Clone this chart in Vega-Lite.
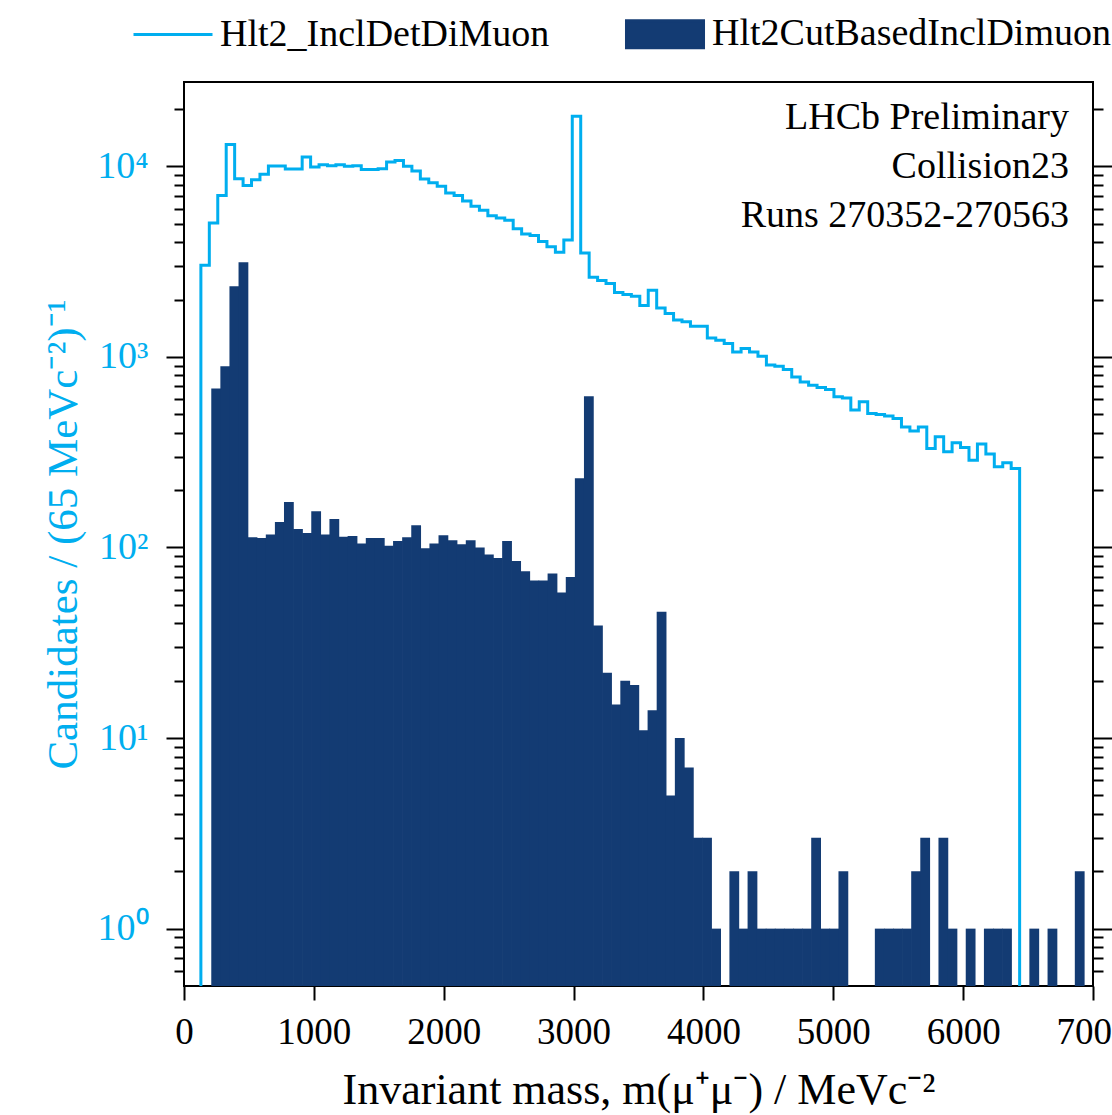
{
  "$schema": "https://vega.github.io/schema/vega-lite/v6.json",
  "autosize": {"type": "none"},
  "padding": {"left": 184, "top": 82, "right": 19, "bottom": 129},
  "width": 909,
  "height": 904,
  "background": "white",
  "config": {
    "font": "Liberation Serif",
    "view": {"stroke": "#000000", "strokeWidth": 2}
  },
  "datasets": {
    "bars": [
      {"lo": 210, "hi": 280, "n": 683, "s": "Hlt2CutBasedInclDimuon"},
      {"lo": 280, "hi": 350, "n": 894, "s": "Hlt2CutBasedInclDimuon"},
      {"lo": 350, "hi": 420, "n": 2350, "s": "Hlt2CutBasedInclDimuon"},
      {"lo": 420, "hi": 490, "n": 3140, "s": "Hlt2CutBasedInclDimuon"},
      {"lo": 490, "hi": 560, "n": 113, "s": "Hlt2CutBasedInclDimuon"},
      {"lo": 560, "hi": 630, "n": 112, "s": "Hlt2CutBasedInclDimuon"},
      {"lo": 630, "hi": 700, "n": 117, "s": "Hlt2CutBasedInclDimuon"},
      {"lo": 700, "hi": 770, "n": 136, "s": "Hlt2CutBasedInclDimuon"},
      {"lo": 770, "hi": 840, "n": 173, "s": "Hlt2CutBasedInclDimuon"},
      {"lo": 840, "hi": 910, "n": 125, "s": "Hlt2CutBasedInclDimuon"},
      {"lo": 910, "hi": 980, "n": 119, "s": "Hlt2CutBasedInclDimuon"},
      {"lo": 980, "hi": 1050, "n": 155, "s": "Hlt2CutBasedInclDimuon"},
      {"lo": 1050, "hi": 1120, "n": 117, "s": "Hlt2CutBasedInclDimuon"},
      {"lo": 1120, "hi": 1190, "n": 141, "s": "Hlt2CutBasedInclDimuon"},
      {"lo": 1190, "hi": 1260, "n": 114, "s": "Hlt2CutBasedInclDimuon"},
      {"lo": 1260, "hi": 1330, "n": 115, "s": "Hlt2CutBasedInclDimuon"},
      {"lo": 1330, "hi": 1400, "n": 105, "s": "Hlt2CutBasedInclDimuon"},
      {"lo": 1400, "hi": 1470, "n": 112, "s": "Hlt2CutBasedInclDimuon"},
      {"lo": 1470, "hi": 1540, "n": 112, "s": "Hlt2CutBasedInclDimuon"},
      {"lo": 1540, "hi": 1610, "n": 102, "s": "Hlt2CutBasedInclDimuon"},
      {"lo": 1610, "hi": 1680, "n": 108, "s": "Hlt2CutBasedInclDimuon"},
      {"lo": 1680, "hi": 1750, "n": 113, "s": "Hlt2CutBasedInclDimuon"},
      {"lo": 1750, "hi": 1820, "n": 131, "s": "Hlt2CutBasedInclDimuon"},
      {"lo": 1820, "hi": 1890, "n": 99, "s": "Hlt2CutBasedInclDimuon"},
      {"lo": 1890, "hi": 1960, "n": 105, "s": "Hlt2CutBasedInclDimuon"},
      {"lo": 1960, "hi": 2030, "n": 116, "s": "Hlt2CutBasedInclDimuon"},
      {"lo": 2030, "hi": 2100, "n": 109, "s": "Hlt2CutBasedInclDimuon"},
      {"lo": 2100, "hi": 2170, "n": 104, "s": "Hlt2CutBasedInclDimuon"},
      {"lo": 2170, "hi": 2240, "n": 109, "s": "Hlt2CutBasedInclDimuon"},
      {"lo": 2240, "hi": 2310, "n": 100, "s": "Hlt2CutBasedInclDimuon"},
      {"lo": 2310, "hi": 2380, "n": 92, "s": "Hlt2CutBasedInclDimuon"},
      {"lo": 2380, "hi": 2450, "n": 88, "s": "Hlt2CutBasedInclDimuon"},
      {"lo": 2450, "hi": 2520, "n": 108, "s": "Hlt2CutBasedInclDimuon"},
      {"lo": 2520, "hi": 2590, "n": 85, "s": "Hlt2CutBasedInclDimuon"},
      {"lo": 2590, "hi": 2660, "n": 75, "s": "Hlt2CutBasedInclDimuon"},
      {"lo": 2660, "hi": 2730, "n": 67, "s": "Hlt2CutBasedInclDimuon"},
      {"lo": 2730, "hi": 2800, "n": 67, "s": "Hlt2CutBasedInclDimuon"},
      {"lo": 2800, "hi": 2870, "n": 73, "s": "Hlt2CutBasedInclDimuon"},
      {"lo": 2870, "hi": 2940, "n": 58, "s": "Hlt2CutBasedInclDimuon"},
      {"lo": 2940, "hi": 3010, "n": 70, "s": "Hlt2CutBasedInclDimuon"},
      {"lo": 3010, "hi": 3080, "n": 231, "s": "Hlt2CutBasedInclDimuon"},
      {"lo": 3080, "hi": 3150, "n": 622, "s": "Hlt2CutBasedInclDimuon"},
      {"lo": 3150, "hi": 3220, "n": 39, "s": "Hlt2CutBasedInclDimuon"},
      {"lo": 3220, "hi": 3290, "n": 22, "s": "Hlt2CutBasedInclDimuon"},
      {"lo": 3290, "hi": 3360, "n": 15, "s": "Hlt2CutBasedInclDimuon"},
      {"lo": 3360, "hi": 3430, "n": 20, "s": "Hlt2CutBasedInclDimuon"},
      {"lo": 3430, "hi": 3500, "n": 19, "s": "Hlt2CutBasedInclDimuon"},
      {"lo": 3500, "hi": 3570, "n": 11, "s": "Hlt2CutBasedInclDimuon"},
      {"lo": 3570, "hi": 3640, "n": 14, "s": "Hlt2CutBasedInclDimuon"},
      {"lo": 3640, "hi": 3710, "n": 46, "s": "Hlt2CutBasedInclDimuon"},
      {"lo": 3710, "hi": 3780, "n": 5, "s": "Hlt2CutBasedInclDimuon"},
      {"lo": 3780, "hi": 3850, "n": 10, "s": "Hlt2CutBasedInclDimuon"},
      {"lo": 3850, "hi": 3920, "n": 7, "s": "Hlt2CutBasedInclDimuon"},
      {"lo": 3920, "hi": 3990, "n": 3, "s": "Hlt2CutBasedInclDimuon"},
      {"lo": 3990, "hi": 4060, "n": 3, "s": "Hlt2CutBasedInclDimuon"},
      {"lo": 4060, "hi": 4130, "n": 1, "s": "Hlt2CutBasedInclDimuon"},
      {"lo": 4200, "hi": 4270, "n": 2, "s": "Hlt2CutBasedInclDimuon"},
      {"lo": 4270, "hi": 4340, "n": 1, "s": "Hlt2CutBasedInclDimuon"},
      {"lo": 4340, "hi": 4410, "n": 2, "s": "Hlt2CutBasedInclDimuon"},
      {"lo": 4410, "hi": 4480, "n": 1, "s": "Hlt2CutBasedInclDimuon"},
      {"lo": 4480, "hi": 4550, "n": 1, "s": "Hlt2CutBasedInclDimuon"},
      {"lo": 4550, "hi": 4620, "n": 1, "s": "Hlt2CutBasedInclDimuon"},
      {"lo": 4620, "hi": 4690, "n": 1, "s": "Hlt2CutBasedInclDimuon"},
      {"lo": 4690, "hi": 4760, "n": 1, "s": "Hlt2CutBasedInclDimuon"},
      {"lo": 4760, "hi": 4830, "n": 1, "s": "Hlt2CutBasedInclDimuon"},
      {"lo": 4830, "hi": 4900, "n": 3, "s": "Hlt2CutBasedInclDimuon"},
      {"lo": 4900, "hi": 4970, "n": 1, "s": "Hlt2CutBasedInclDimuon"},
      {"lo": 4970, "hi": 5040, "n": 1, "s": "Hlt2CutBasedInclDimuon"},
      {"lo": 5040, "hi": 5110, "n": 2, "s": "Hlt2CutBasedInclDimuon"},
      {"lo": 5320, "hi": 5390, "n": 1, "s": "Hlt2CutBasedInclDimuon"},
      {"lo": 5390, "hi": 5460, "n": 1, "s": "Hlt2CutBasedInclDimuon"},
      {"lo": 5460, "hi": 5530, "n": 1, "s": "Hlt2CutBasedInclDimuon"},
      {"lo": 5530, "hi": 5600, "n": 1, "s": "Hlt2CutBasedInclDimuon"},
      {"lo": 5600, "hi": 5670, "n": 2, "s": "Hlt2CutBasedInclDimuon"},
      {"lo": 5670, "hi": 5740, "n": 3, "s": "Hlt2CutBasedInclDimuon"},
      {"lo": 5810, "hi": 5880, "n": 3, "s": "Hlt2CutBasedInclDimuon"},
      {"lo": 5880, "hi": 5950, "n": 1, "s": "Hlt2CutBasedInclDimuon"},
      {"lo": 6020, "hi": 6090, "n": 1, "s": "Hlt2CutBasedInclDimuon"},
      {"lo": 6160, "hi": 6230, "n": 1, "s": "Hlt2CutBasedInclDimuon"},
      {"lo": 6230, "hi": 6300, "n": 1, "s": "Hlt2CutBasedInclDimuon"},
      {"lo": 6300, "hi": 6370, "n": 1, "s": "Hlt2CutBasedInclDimuon"},
      {"lo": 6510, "hi": 6580, "n": 1, "s": "Hlt2CutBasedInclDimuon"},
      {"lo": 6650, "hi": 6720, "n": 1, "s": "Hlt2CutBasedInclDimuon"},
      {"lo": 6860, "hi": 6930, "n": 2, "s": "Hlt2CutBasedInclDimuon"}
    ],
    "line": [
      {"m": 130, "n": 0.5, "s": "Hlt2_InclDetDiMuon"},
      {"m": 130, "n": 3030, "s": "Hlt2_InclDetDiMuon"},
      {"m": 195, "n": 5040, "s": "Hlt2_InclDetDiMuon"},
      {"m": 260, "n": 7020, "s": "Hlt2_InclDetDiMuon"},
      {"m": 325, "n": 13030, "s": "Hlt2_InclDetDiMuon"},
      {"m": 390, "n": 8610, "s": "Hlt2_InclDetDiMuon"},
      {"m": 455, "n": 7940, "s": "Hlt2_InclDetDiMuon"},
      {"m": 520, "n": 8510, "s": "Hlt2_InclDetDiMuon"},
      {"m": 585, "n": 9080, "s": "Hlt2_InclDetDiMuon"},
      {"m": 650, "n": 10040, "s": "Hlt2_InclDetDiMuon"},
      {"m": 715, "n": 10040, "s": "Hlt2_InclDetDiMuon"},
      {"m": 780, "n": 9680, "s": "Hlt2_InclDetDiMuon"},
      {"m": 845, "n": 9680, "s": "Hlt2_InclDetDiMuon"},
      {"m": 910, "n": 11190, "s": "Hlt2_InclDetDiMuon"},
      {"m": 975, "n": 9910, "s": "Hlt2_InclDetDiMuon"},
      {"m": 1040, "n": 10200, "s": "Hlt2_InclDetDiMuon"},
      {"m": 1105, "n": 10080, "s": "Hlt2_InclDetDiMuon"},
      {"m": 1170, "n": 10200, "s": "Hlt2_InclDetDiMuon"},
      {"m": 1235, "n": 10000, "s": "Hlt2_InclDetDiMuon"},
      {"m": 1300, "n": 10080, "s": "Hlt2_InclDetDiMuon"},
      {"m": 1365, "n": 9610, "s": "Hlt2_InclDetDiMuon"},
      {"m": 1430, "n": 9610, "s": "Hlt2_InclDetDiMuon"},
      {"m": 1495, "n": 9720, "s": "Hlt2_InclDetDiMuon"},
      {"m": 1560, "n": 10540, "s": "Hlt2_InclDetDiMuon"},
      {"m": 1625, "n": 10740, "s": "Hlt2_InclDetDiMuon"},
      {"m": 1690, "n": 10000, "s": "Hlt2_InclDetDiMuon"},
      {"m": 1755, "n": 9440, "s": "Hlt2_InclDetDiMuon"},
      {"m": 1820, "n": 8570, "s": "Hlt2_InclDetDiMuon"},
      {"m": 1885, "n": 8200, "s": "Hlt2_InclDetDiMuon"},
      {"m": 1950, "n": 7850, "s": "Hlt2_InclDetDiMuon"},
      {"m": 2015, "n": 7250, "s": "Hlt2_InclDetDiMuon"},
      {"m": 2080, "n": 7020, "s": "Hlt2_InclDetDiMuon"},
      {"m": 2145, "n": 6580, "s": "Hlt2_InclDetDiMuon"},
      {"m": 2210, "n": 6170, "s": "Hlt2_InclDetDiMuon"},
      {"m": 2275, "n": 5880, "s": "Hlt2_InclDetDiMuon"},
      {"m": 2340, "n": 5510, "s": "Hlt2_InclDetDiMuon"},
      {"m": 2405, "n": 5350, "s": "Hlt2_InclDetDiMuon"},
      {"m": 2470, "n": 5210, "s": "Hlt2_InclDetDiMuon"},
      {"m": 2535, "n": 4710, "s": "Hlt2_InclDetDiMuon"},
      {"m": 2600, "n": 4410, "s": "Hlt2_InclDetDiMuon"},
      {"m": 2665, "n": 4330, "s": "Hlt2_InclDetDiMuon"},
      {"m": 2730, "n": 4030, "s": "Hlt2_InclDetDiMuon"},
      {"m": 2795, "n": 3780, "s": "Hlt2_InclDetDiMuon"},
      {"m": 2860, "n": 3540, "s": "Hlt2_InclDetDiMuon"},
      {"m": 2925, "n": 4110, "s": "Hlt2_InclDetDiMuon"},
      {"m": 2990, "n": 18290, "s": "Hlt2_InclDetDiMuon"},
      {"m": 3055, "n": 3510, "s": "Hlt2_InclDetDiMuon"},
      {"m": 3120, "n": 2620, "s": "Hlt2_InclDetDiMuon"},
      {"m": 3185, "n": 2520, "s": "Hlt2_InclDetDiMuon"},
      {"m": 3250, "n": 2425, "s": "Hlt2_InclDetDiMuon"},
      {"m": 3315, "n": 2180, "s": "Hlt2_InclDetDiMuon"},
      {"m": 3380, "n": 2125, "s": "Hlt2_InclDetDiMuon"},
      {"m": 3445, "n": 2080, "s": "Hlt2_InclDetDiMuon"},
      {"m": 3510, "n": 1860, "s": "Hlt2_InclDetDiMuon"},
      {"m": 3575, "n": 2240, "s": "Hlt2_InclDetDiMuon"},
      {"m": 3640, "n": 1808, "s": "Hlt2_InclDetDiMuon"},
      {"m": 3705, "n": 1690, "s": "Hlt2_InclDetDiMuon"},
      {"m": 3770, "n": 1560, "s": "Hlt2_InclDetDiMuon"},
      {"m": 3835, "n": 1530, "s": "Hlt2_InclDetDiMuon"},
      {"m": 3900, "n": 1450, "s": "Hlt2_InclDetDiMuon"},
      {"m": 3965, "n": 1450, "s": "Hlt2_InclDetDiMuon"},
      {"m": 4030, "n": 1258, "s": "Hlt2_InclDetDiMuon"},
      {"m": 4095, "n": 1224, "s": "Hlt2_InclDetDiMuon"},
      {"m": 4160, "n": 1176, "s": "Hlt2_InclDetDiMuon"},
      {"m": 4225, "n": 1062, "s": "Hlt2_InclDetDiMuon"},
      {"m": 4290, "n": 1107, "s": "Hlt2_InclDetDiMuon"},
      {"m": 4355, "n": 1062, "s": "Hlt2_InclDetDiMuon"},
      {"m": 4420, "n": 1008, "s": "Hlt2_InclDetDiMuon"},
      {"m": 4485, "n": 906, "s": "Hlt2_InclDetDiMuon"},
      {"m": 4550, "n": 894, "s": "Hlt2_InclDetDiMuon"},
      {"m": 4615, "n": 859, "s": "Hlt2_InclDetDiMuon"},
      {"m": 4680, "n": 785, "s": "Hlt2_InclDetDiMuon"},
      {"m": 4745, "n": 739, "s": "Hlt2_InclDetDiMuon"},
      {"m": 4810, "n": 710, "s": "Hlt2_InclDetDiMuon"},
      {"m": 4875, "n": 691, "s": "Hlt2_InclDetDiMuon"},
      {"m": 4940, "n": 675, "s": "Hlt2_InclDetDiMuon"},
      {"m": 5005, "n": 617, "s": "Hlt2_InclDetDiMuon"},
      {"m": 5070, "n": 609, "s": "Hlt2_InclDetDiMuon"},
      {"m": 5135, "n": 526, "s": "Hlt2_InclDetDiMuon"},
      {"m": 5200, "n": 581, "s": "Hlt2_InclDetDiMuon"},
      {"m": 5265, "n": 505, "s": "Hlt2_InclDetDiMuon"},
      {"m": 5330, "n": 499, "s": "Hlt2_InclDetDiMuon"},
      {"m": 5395, "n": 489, "s": "Hlt2_InclDetDiMuon"},
      {"m": 5460, "n": 475, "s": "Hlt2_InclDetDiMuon"},
      {"m": 5525, "n": 429, "s": "Hlt2_InclDetDiMuon"},
      {"m": 5590, "n": 408, "s": "Hlt2_InclDetDiMuon"},
      {"m": 5655, "n": 429, "s": "Hlt2_InclDetDiMuon"},
      {"m": 5720, "n": 331, "s": "Hlt2_InclDetDiMuon"},
      {"m": 5785, "n": 381, "s": "Hlt2_InclDetDiMuon"},
      {"m": 5850, "n": 318, "s": "Hlt2_InclDetDiMuon"},
      {"m": 5915, "n": 354, "s": "Hlt2_InclDetDiMuon"},
      {"m": 5980, "n": 335, "s": "Hlt2_InclDetDiMuon"},
      {"m": 6045, "n": 287, "s": "Hlt2_InclDetDiMuon"},
      {"m": 6110, "n": 349, "s": "Hlt2_InclDetDiMuon"},
      {"m": 6175, "n": 309, "s": "Hlt2_InclDetDiMuon"},
      {"m": 6240, "n": 265, "s": "Hlt2_InclDetDiMuon"},
      {"m": 6305, "n": 278, "s": "Hlt2_InclDetDiMuon"},
      {"m": 6370, "n": 260, "s": "Hlt2_InclDetDiMuon"},
      {"m": 6435, "n": 0.5, "s": "Hlt2_InclDetDiMuon"}
    ]
  },
  "layer": [
    {
      "data": {"name": "bars"},
      "mark": {"type": "bar", "color": "#133b73", "x2Offset": 0.7},
      "encoding": {
        "x": {
          "field": "lo", "type": "quantitative",
          "scale": {"domain": [0, 7000], "nice": false, "zero": false},
          "axis": {
            "values": [0, 1000, 2000, 3000, 4000, 5000, 6000, 7000],
            "format": "d",
            "domain": false, "grid": false,
            "tickSize": 14, "tickWidth": 2, "tickColor": "#000000",
            "labelFontSize": 37, "labelFont": "Liberation Serif", "labelColor": "#000000",
            "labelPadding": 14, "labelFlush": false, "labelOverlap": false, "labelBound": false,
            "title": "Invariant mass, m(μ⁺μ⁻) / MeVc⁻²",
            "titleFontSize": 44, "titleFont": "Liberation Serif", "titleFontWeight": "normal", "titleColor": "#000000",
            "titlePadding": 18
          }
        },
        "x2": {"field": "hi"},
        "y": {
          "field": "n", "type": "quantitative",
          "scale": {"type": "log", "domain": [0.5, 27700], "nice": false},
          "axis": {
            "orient": "left",
            "values": [0.6, 0.7, 0.8, 0.9, 1, 2, 3, 4, 5, 6, 7, 8, 9, 10, 20, 30, 40, 50, 60, 70, 80, 90, 100, 200, 300, 400, 500, 600, 700, 800, 900, 1000, 2000, 3000, 4000, 5000, 6000, 7000, 8000, 9000, 10000, 20000],
            "labelExpr": "datum.value == 1 ? '10⁰' : datum.value == 10 ? '10¹' : datum.value == 100 ? '10²' : datum.value == 1000 ? '10³' : datum.value == 10000 ? '10⁴' : ''",
            "domain": false, "grid": false,
            "tickSize": {"condition": {"test": "indexof([1,10,100,1000,10000], datum.value) >= 0", "value": 18}, "value": 10},
            "tickWidth": 2, "tickColor": "#000000",
            "labelFontSize": 38, "labelFont": "Liberation Serif", "labelColor": "#00aeef",
            "labelPadding": 18, "labelOverlap": false, "labelBound": false, "labelFlush": false,
            "title": "Candidates / (65 MeVc⁻²)⁻¹",
            "titleFontSize": 43, "titleFont": "Liberation Serif", "titleFontWeight": "normal", "titleColor": "#00aeef",
            "titlePadding": 11
          }
        },
        "y2": {"datum": 0.5},
        "color": {
          "field": "s", "type": "nominal",
          "scale": {"domain": ["Hlt2_InclDetDiMuon", "Hlt2CutBasedInclDimuon"], "range": ["#00aeef", "#133b73"]},
          "legend": {
            "orient": "none", "legendX": -52, "legendY": -89,
            "direction": "horizontal", "title": null, "padding": 0,
            "labelFontSize": 38, "labelFont": "Liberation Serif", "labelColor": "#000000",
            "labelLimit": 1000, "labelOffset": 6, "columnPadding": 70,
            "symbolSize": 6241, "symbolStrokeWidth": 3,
            "encode": {
              "symbols": {
                "update": {
                  "shape": {"signal": "datum.value == 'Hlt2_InclDetDiMuon' ? 'stroke' : 'M-0.975,-0.34H0.975V0.34H-0.975Z'"},
                  "fill": {"signal": "datum.value == 'Hlt2_InclDetDiMuon' ? 'transparent' : '#133b73'"},
                  "stroke": {"signal": "datum.value == 'Hlt2_InclDetDiMuon' ? '#00aeef' : 'transparent'"},
                  "strokeWidth": {"value": 3},
                  "opacity": {"value": 1}
                }
              }
            }
          }
        }
      }
    },
    {
      "data": {"name": "line"},
      "mark": {"type": "line", "interpolate": "step-after", "strokeWidth": 3},
      "encoding": {
        "x": {"field": "m", "type": "quantitative", "scale": {"domain": [0, 7000], "nice": false, "zero": false}},
        "y": {
          "field": "n", "type": "quantitative",
          "scale": {"type": "log", "domain": [0.5, 27700], "nice": false},
          "axis": {
            "orient": "right",
            "values": [0.6, 0.7, 0.8, 0.9, 1, 2, 3, 4, 5, 6, 7, 8, 9, 10, 20, 30, 40, 50, 60, 70, 80, 90, 100, 200, 300, 400, 500, 600, 700, 800, 900, 1000, 2000, 3000, 4000, 5000, 6000, 7000, 8000, 9000, 10000, 20000],
            "labels": false, "title": null,
            "domain": false, "grid": false,
            "tickSize": {"condition": {"test": "indexof([1,10,100,1000,10000], datum.value) >= 0", "value": 20}, "value": 10},
            "tickWidth": 2, "tickColor": "#000000"
          }
        },
        "color": {"field": "s", "type": "nominal"},
        "order": {"value": null}
      }
    },
    {
      "data": {"values": [{}]},
      "mark": {
        "type": "text",
        "text": ["LHCb Preliminary", "Collision23", "Runs 270352-270563"],
        "align": "right", "baseline": "alphabetic",
        "fontSize": 38, "lineHeight": 49, "font": "Liberation Serif", "color": "#000000"
      },
      "encoding": {
        "x": {"datum": 6815, "type": "quantitative"},
        "y": {"datum": 15630, "type": "quantitative", "axis": null}
      }
    }
  ],
  "resolve": {"axis": {"y": "independent"}}
}
